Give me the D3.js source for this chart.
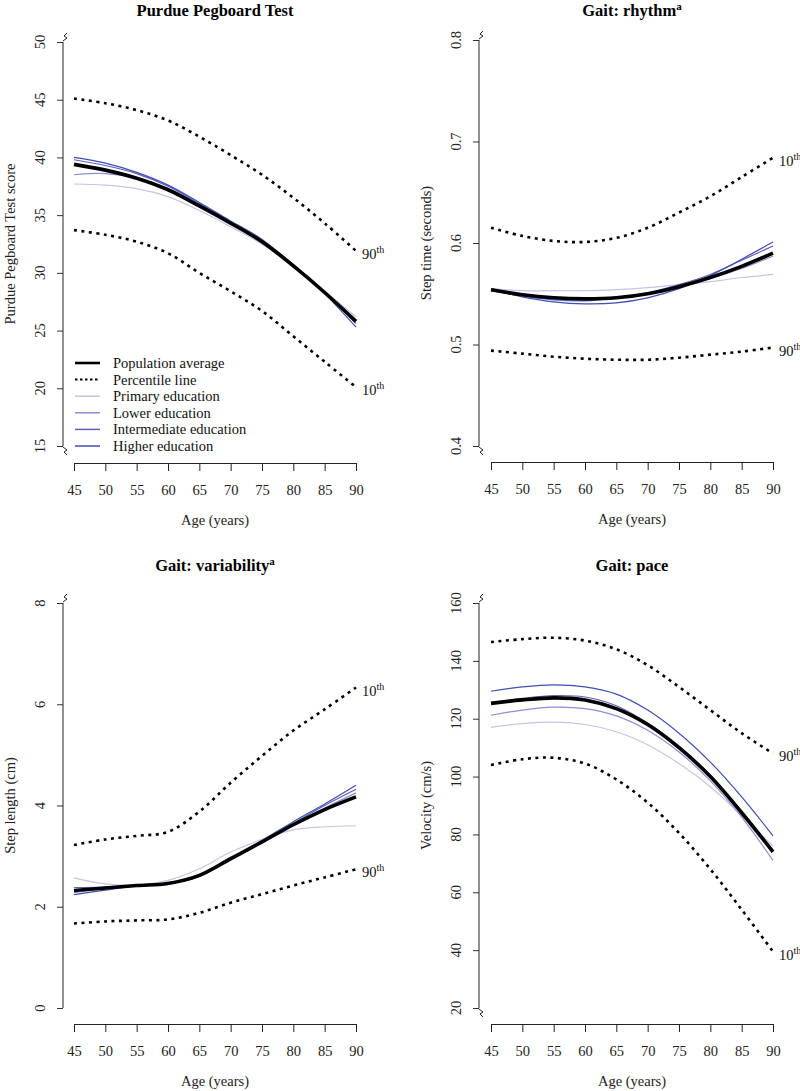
<!DOCTYPE html>
<html><head><meta charset="utf-8">
<script src="https://cdn.jsdelivr.net/npm/d3@7"></script>
<style>body{margin:0;background:#fff}svg{display:block;font-family:"Liberation Serif","Times New Roman",serif}</style>
</head><body><svg id="c" width="800" height="1091"></svg>
<script>
// ---------- data ----------
const ages = [45,50,55,60,65,70,75,80,85,90];
const seriesNames = ["Primary education","Lower education","Intermediate education","Higher education"];
const seriesColors = ["#c4c4e6","#8e8ed6","#5f5fc0","#3d4fb0"];

// Purdue Pegboard Test
const pegAvg   = [39.4,38.9,38.2,37.2,35.8,34.3,32.7,30.6,28.3,25.8];
const pegUpper = [45.1,44.7,44.1,43.2,41.8,40.2,38.5,36.5,34.3,31.9];
const pegLower = [33.7,33.3,32.7,31.7,30.0,28.4,26.7,24.5,22.3,20.1];
const pegPrimary = [37.7,37.6,37.3,36.6,35.4,34.0,32.5,30.6,28.4,26.2];
const pegLowerEd = [38.5,38.6,38.2,37.3,35.9,34.3,32.7,30.6,28.3,25.8];
const pegInter   = [39.8,39.3,38.6,37.5,36.0,34.4,32.8,30.7,28.3,25.6];
const pegHigher  = [40.0,39.5,38.7,37.6,36.1,34.5,32.9,30.7,28.2,25.3];
const pegTicks = [15,20,25,30,35,40,45,50];

// Gait: rhythm
const rhyAvg   = [0.554,0.549,0.546,0.545,0.546,0.550,0.557,0.566,0.577,0.590];
const rhyUpper = [0.615,0.607,0.602,0.601,0.605,0.615,0.630,0.646,0.665,0.684];
const rhyLower = [0.494,0.491,0.488,0.486,0.485,0.485,0.487,0.490,0.493,0.497];
const rhyPrimary = [0.555,0.553,0.553,0.553,0.554,0.556,0.559,0.562,0.566,0.569];
const rhyLowerEd = [0.555,0.550,0.546,0.545,0.546,0.550,0.557,0.565,0.575,0.587];
const rhyInter   = [0.553,0.548,0.544,0.543,0.546,0.551,0.559,0.569,0.583,0.597];
const rhyHigher  = [0.554,0.547,0.542,0.540,0.541,0.546,0.555,0.568,0.584,0.601];
const rhyTicks = [0.4,0.5,0.6,0.7,0.8];

// Gait: variability
const varAvg   = [2.32,2.37,2.42,2.46,2.62,2.95,3.28,3.62,3.92,4.17];
const varUpper = [3.22,3.33,3.40,3.48,3.88,4.45,4.98,5.48,5.90,6.33];
const varLower = [1.67,1.71,1.73,1.75,1.88,2.08,2.25,2.42,2.58,2.74];
const varPrimary = [2.57,2.45,2.43,2.52,2.75,3.08,3.33,3.52,3.58,3.60];
const varLowerEd = [2.28,2.36,2.42,2.47,2.62,2.95,3.27,3.62,3.95,4.25];
const varInter   = [2.38,2.39,2.42,2.46,2.60,2.92,3.28,3.65,4.00,4.32];
const varHigher  = [2.24,2.33,2.41,2.46,2.60,2.95,3.31,3.68,4.03,4.40];
const varTicks = [0,2,4,6,8];

// Gait: pace
const paceAvg   = [125.3,126.5,127.2,126.5,123.5,118.0,110.0,100.0,87.5,74.0];
const paceUpper = [146.5,147.5,148.0,147.0,144.0,138.5,131.0,123.0,115.0,108.0];
const paceLower = [104.0,106.0,106.5,104.5,99.0,91.0,80.5,68.0,54.0,39.5];
const pacePrimary = [117.0,118.3,118.8,118.0,115.5,111.0,104.5,96.5,86.5,76.0];
const paceLowerEd = [121.2,123.0,124.0,123.5,121.0,116.0,108.5,98.5,86.0,71.0];
const paceInter   = [125.5,127.0,128.0,127.5,124.5,118.5,110.5,100.5,88.0,74.5];
const paceHigher  = [129.5,131.0,131.7,131.0,128.5,123.0,115.0,105.0,93.0,79.5];
const paceTicks = [20,40,60,80,100,120,140,160];

const xTicks = [45,50,55,60,65,70,75,80,85,90];

// ---------- layout ----------
const panels = [
  {title:"Purdue Pegboard Test", sup:"", ylab:"Purdue Pegboard Test score",
   avg:pegAvg, up:pegUpper, lo:pegLower, upLab:"90", loLab:"10",
   ed:[pegPrimary,pegLowerEd,pegInter,pegHigher], ticks:pegTicks,
   left:74,right:356,axX:63,top:42,bot:446,xAxY:463,titleY:16,legend:true,brTop:true,brBot:true},
  {title:"Gait: rhythm", sup:"a", ylab:"Step time (seconds)",
   avg:rhyAvg, up:rhyUpper, lo:rhyLower, upLab:"10", loLab:"90",
   ed:[rhyPrimary,rhyLowerEd,rhyInter,rhyHigher], ticks:rhyTicks,
   left:491,right:773,axX:479,top:40,bot:446,xAxY:462,titleY:16,brTop:true,brBot:true},
  {title:"Gait: variability", sup:"a", ylab:"Step length (cm)",
   avg:varAvg, up:varUpper, lo:varLower, upLab:"10", loLab:"90",
   ed:[varPrimary,varLowerEd,varInter,varHigher], ticks:varTicks,
   left:74,right:356,axX:63,top:603,bot:1008,xAxY:1024,titleY:571,brTop:true,brBot:false},
  {title:"Gait: pace", sup:"", ylab:"Velocity (cm/s)",
   avg:paceAvg, up:paceUpper, lo:paceLower, upLab:"90", loLab:"10",
   ed:[pacePrimary,paceLowerEd,paceInter,paceHigher], ticks:paceTicks,
   left:491,right:773,axX:479,top:603,bot:1008,xAxY:1024,titleY:571,brTop:true,brBot:true}
];

const svg = d3.select("#c");
const fs = 14.5;

panels.forEach(p => {
  const g = svg.append("g");
  const x = d3.scaleLinear().domain([45,90]).range([p.left,p.right]);
  const y = d3.scaleLinear().domain([p.ticks[0], p.ticks[p.ticks.length-1]]).range([p.bot,p.top]);
  const line = d3.line().x((d,i)=>x(ages[i])).y(d=>y(d)).curve(d3.curveCatmullRom.alpha(0.5));

  // title
  const cx = (p.left+p.right)/2;
  const t = g.append("text").attr("x",cx).attr("y",p.titleY).attr("text-anchor","middle")
    .attr("font-weight","bold").attr("font-size",16.5).text(p.title);
  if (p.sup) t.append("tspan").attr("font-size",11).attr("dy",-6).text(p.sup);

  // y axis
  const ya = g.append("g").attr("transform",`translate(${p.axX},0)`)
    .call(d3.axisLeft(y).tickValues(p.ticks).tickSize(6).tickFormat(d3.format("~g")));
  ya.select(".domain").remove();
  ya.selectAll(".tick line").attr("stroke","#333");
  ya.selectAll(".tick text").remove();
  p.ticks.forEach(v => {
    g.append("text").attr("transform",`translate(${p.axX-18},${y(v)}) rotate(-90)`)
      .attr("text-anchor","middle").attr("font-size",fs).attr("fill","#222").text(d3.format("~g")(v));
  });
  g.append("line").attr("x1",p.axX).attr("x2",p.axX).attr("y1",y.range()[1]).attr("y2",y.range()[0])
    .attr("stroke","#222").attr("stroke-width",1);
  // axis breaks
  const zz = (yy, dir) => `M${p.axX},${yy} L${p.axX+4},${yy-3*dir} L${p.axX+1},${yy-5*dir} L${p.axX+4},${yy-8*dir}`;
  if (p.brTop) g.append("path").attr("d",zz(p.top-1,1)).attr("fill","none").attr("stroke","#222").attr("stroke-width",1);
  if (p.brBot) g.append("path").attr("d",zz(p.bot+1,-1)).attr("fill","none").attr("stroke","#222").attr("stroke-width",1);

  // y label
  g.append("text").attr("transform",`translate(${p.axX-48},${(p.top+p.bot)/2}) rotate(-90)`)
    .attr("text-anchor","middle").attr("font-size",fs).attr("fill","#222").text(p.ylab);

  // x axis
  const xa = g.append("g").attr("transform",`translate(0,${p.xAxY})`)
    .call(d3.axisBottom(x).tickValues(xTicks).tickSize(8).tickSizeOuter(0).tickPadding(14));
  xa.select(".domain").attr("stroke","#222");
  xa.selectAll(".tick line").attr("stroke","#222");
  xa.selectAll(".tick text").attr("font-size",fs).attr("font-family","Liberation Serif").attr("fill","#222");
  g.append("text").attr("x",cx).attr("y",p.xAxY+62).attr("text-anchor","middle")
    .attr("font-size",fs).attr("fill","#222").text("Age (years)");

  // education lines
  p.ed.forEach((s,i) => {
    g.append("path").attr("d",line(s)).attr("fill","none").attr("stroke",seriesColors[i]).attr("stroke-width",1.2);
  });
  // percentile lines
  [p.up,p.lo].forEach(s => {
    g.append("path").attr("d",line(s)).attr("fill","none").attr("stroke","#000")
      .attr("stroke-width",2.6).attr("stroke-dasharray","3,4.5");
  });
  // population average
  g.append("path").attr("d",line(p.avg)).attr("fill","none").attr("stroke","#000").attr("stroke-width",3.6);

  // percentile labels
  [[p.up,p.upLab],[p.lo,p.loLab]].forEach(([s,lab]) => {
    const tt = g.append("text").attr("x",x(90)+6).attr("y",y(s[s.length-1])+8)
      .attr("font-size",fs).attr("fill","#111").text(lab);
    tt.append("tspan").attr("font-size",10).attr("dy",-6).text("th");
  });

  // legend
  if (p.legend) {
    const items = [{n:"Population average",c:"#000",w:2.6,d:null},
                   {n:"Percentile line",c:"#000",w:2,d:"2.5,2.5"}]
      .concat(seriesNames.map((n,i)=>({n:n,c:seriesColors[i],w:1.5,d:null})));
    items.forEach((it,i) => {
      const yy = 363 + i*16.6;
      g.append("line").attr("x1",75).attr("x2",100).attr("y1",yy).attr("y2",yy)
        .attr("stroke",it.c).attr("stroke-width",it.w).attr("stroke-dasharray",it.d);
      g.append("text").attr("x",113).attr("y",yy+5).attr("font-size",fs).attr("fill","#111").text(it.n);
    });
  }
});
</script></body></html>
